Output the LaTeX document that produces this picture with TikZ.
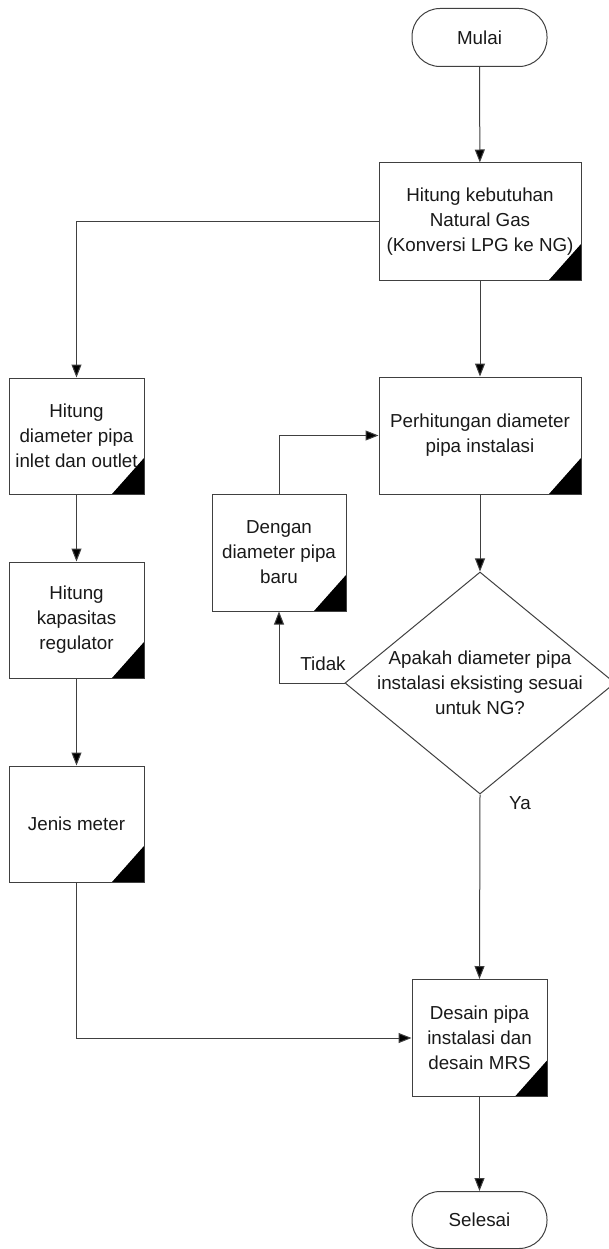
\documentclass[tikz,border=0pt]{standalone}
\usepackage{fontspec}
\setmainfont{Liberation Sans}
\usetikzlibrary{arrows.meta,shapes.geometric}
\begin{document}
\begin{tikzpicture}[x=1pt,y=-1pt,
  every node/.style={font=\fontsize{18.8}{25}\selectfont, text=black!90},
  term/.style={draw=black!75, line width=1pt, rounded corners=28pt, minimum width=135pt, minimum height=58pt, inner sep=0pt, align=center},
  proc/.style={draw=black!75, line width=1pt, rectangle, inner sep=0pt, align=center,
    path picture={\fill[black] (path picture bounding box.south east) -- ++(0pt,36pt) -- ++(-32pt,-36pt) -- cycle;}},
  small/.style={proc, minimum width=135pt, minimum height=116pt},
  wide/.style={proc, minimum width=202pt, minimum height=117pt},
  decision/.style={draw=black!75, line width=1pt, shape=diamond, minimum width=270pt, minimum height=222pt, inner sep=0pt},
  lbl/.style={inner sep=0pt},
  arr/.style={draw=black!75, line width=1pt, -{Triangle[length=13pt,width=10pt,fill=black]}}
]
\useasboundingbox (0,0) rectangle (609,1249);

\node[term] (start) at (479.5,37.5) {Mulai};
\node[wide] (hk) at (480,221.5) {Hitung kebutuhan\\Natural Gas\\(Konversi LPG ke NG)};
\node[small] (hd) at (76.5,436) {Hitung\\diameter pipa\\inlet dan outlet};
\node[small] (hr) at (76.5,620) {Hitung\\kapasitas\\regulator};
\node[small] (jm) at (76.5,824) {Jenis meter};
\node[wide] (ph) at (480,435.5) {Perhitungan diameter\\pipa instalasi};
\node[proc, minimum width=134pt, minimum height=117pt] (dg) at (279,552.5) {Dengan\\diameter pipa\\baru};
\node[decision] (dec) at (480,683) {};
\node[lbl, align=center] (dectext) at (dec.center) {Apakah diameter pipa\\instalasi eksisting sesuai\\untuk NG?};
\node[small, minimum height=117pt] (ds) at (479.5,1038) {Desain pipa\\instalasi dan\\desain MRS};
\node[term, minimum height=57pt] (end) at (479.5,1220) {Selesai};

\node[lbl] (tidak) at (323,664) {Tidak};
\node[lbl] (ya) at (520,803) {Ya};

\draw[arr] (start) -- (hk);
\draw[arr] (hk.west) -| (hd.north);
\draw[arr] (hk) -- (ph);
\draw[arr] (hd) -- (hr);
\draw[arr] (hr) -- (jm);
\draw[arr] (jm.south) |- (ds.west);
\draw[arr] (ph) -- (dec);
\draw[arr] (dec.west) -| (dg.south);
\draw[arr] (dg.north) |- (ph.west);
\draw[arr] (dec.south) -- (ds.north);
\draw[arr] (ds) -- (end);
\end{tikzpicture}
\end{document}
